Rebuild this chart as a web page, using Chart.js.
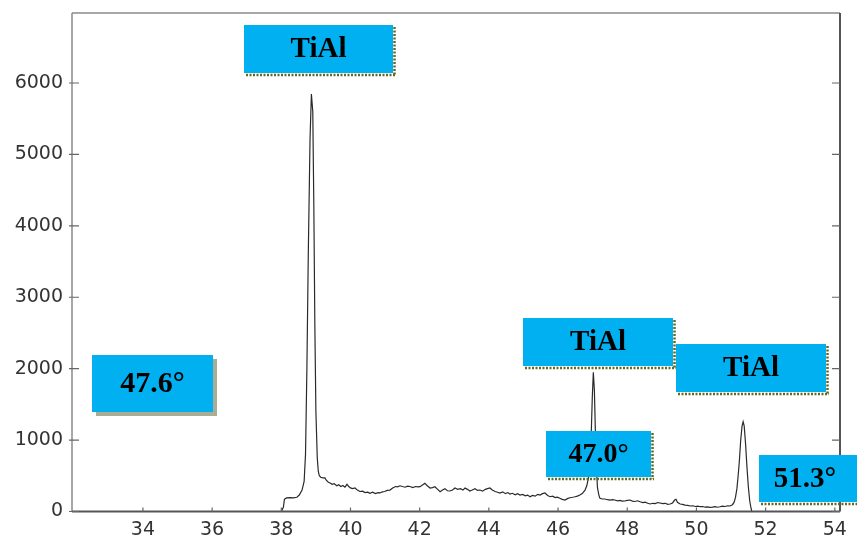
<!DOCTYPE html>
<html>
<head>
<meta charset="utf-8">
<script src="https://cdn.jsdelivr.net/npm/chart.js@4/dist/chart.umd.min.js"></script>
<style>
body{margin:0;background:#fff}
#wrap{width:857px;height:541px;position:relative}
</style>
</head>
<body>
<div id="wrap"><canvas id="xrd"></canvas></div>
<script>
let twoTheta=[38.00,38.06,38.09,38.15,38.25,38.35,38.45,38.52,38.60,38.66,38.70,38.74,38.78,38.83,38.87,38.91,38.94,38.97,39.00,39.04,39.07,39.10,39.14,39.20,39.26,39.30,39.36,39.41,39.47,39.53,39.60,39.66,39.72,39.78,39.84,39.90,39.95,40.00,40.06,40.13,40.20,40.27,40.35,40.42,40.50,40.56,40.64,40.72,40.80,40.85,40.92,40.99,41.06,41.14,41.22,41.30,41.36,41.43,41.50,41.58,41.65,41.72,41.80,41.88,41.95,42.01,42.08,42.15,42.22,42.30,42.37,42.44,42.52,42.59,42.66,42.73,42.80,42.87,42.95,43.02,43.10,43.18,43.25,43.31,43.38,43.45,43.52,43.60,43.67,43.74,43.82,43.90,43.96,44.03,44.10,44.18,44.25,44.32,44.40,44.48,44.55,44.61,44.68,44.76,44.83,44.90,44.98,45.05,45.12,45.19,45.26,45.34,45.41,45.48,45.55,45.62,45.70,45.77,45.84,45.92,45.98,46.05,46.12,46.20,46.27,46.34,46.42,46.49,46.56,46.63,46.70,46.78,46.83,46.88,46.92,46.96,46.99,47.02,47.05,47.08,47.11,47.14,47.18,47.21,47.28,47.35,47.43,47.50,47.57,47.64,47.72,47.79,47.86,47.93,48.00,48.08,48.15,48.22,48.30,48.37,48.45,48.52,48.59,48.66,48.74,48.81,48.88,48.95,49.02,49.10,49.17,49.24,49.31,49.37,49.41,49.45,49.53,49.60,49.67,49.75,49.82,49.90,49.97,50.04,50.11,50.18,50.25,50.32,50.39,50.46,50.54,50.61,50.68,50.75,50.83,50.90,50.97,51.04,51.09,51.13,51.17,51.20,51.24,51.28,51.32,51.35,51.38,51.42,51.46,51.50,51.54,51.57,51.60]

let intensity=[0,60,170,190,195,190,200,230,300,420,800,2000,3600,5200,5845,5600,4300,2600,1400,750,560,500,480,470,470,440,410,400,380,390,360,375,350,365,340,380,350,330,320,330,300,280,285,265,270,255,270,250,265,260,275,280,295,300,330,350,345,360,350,340,355,350,335,350,345,347,370,395,360,329,335,347,310,277,300,320,290,287,300,329,310,320,300,329,310,287,300,320,295,301,285,310,320,329,300,280,270,259,275,250,265,245,255,235,250,231,240,220,230,207,225,215,240,231,250,259,225,207,215,195,200,185,170,161,180,193,200,207,215,231,250,300,360,470,650,1100,1600,1950,1700,1100,600,330,230,185,175,175,165,160,165,161,150,155,145,147,155,161,145,140,150,137,125,130,115,105,115,110,125,119,110,115,100,105,120,160,171,130,105,100,90,85,77,80,70,75,67,70,60,65,59,62,67,60,67,75,70,80,77,95,130,200,320,470,700,1000,1200,1257,1200,950,627,350,150,67,0]

let xTicks=[34,36,38,40,42,44,46,48,50,52,54]
let yTicks=[0,1000,2000,3000,4000,5000,6000]

let boxes=[
{text:"TiAl",x:244,y:25,w:149,h:48,size:29,dotted:true},
{text:"TiAl",x:523,y:318,w:150,h:48,size:29,dotted:true},
{text:"TiAl",x:676,y:344,w:150,h:48,size:29,dotted:true},
{text:"47.0°",x:546,y:431,w:105,h:46,size:28,dotted:true},
{text:"51.3°",x:759,y:455,w:100,h:47,size:29,dotted:true,dx:-4},
{text:"47.6°",x:92,y:355,w:121,h:57,size:30,shadow:true}
]

let frame={
id:"frame",
beforeDraw(chart){
let c=chart.ctx
c.save()
c.fillStyle="#fff"
c.fillRect(0,0,chart.width,chart.height)
c.restore()
},
afterDatasetsDraw(chart){
let c=chart.ctx
let a=chart.chartArea
let xs=chart.scales.x
let ys=chart.scales.y
c.save()
c.lineWidth=1.5
c.strokeStyle="#8a8a8a"
c.beginPath()
c.moveTo(a.left,a.top);c.lineTo(a.right,a.top)
c.moveTo(a.left,a.top);c.lineTo(a.left,a.bottom)
c.stroke()
c.lineWidth=2
c.strokeStyle="#555"
c.beginPath()
c.moveTo(a.right,a.top);c.lineTo(a.right,a.bottom)
c.moveTo(a.left,a.bottom);c.lineTo(a.right,a.bottom)
c.stroke()
c.lineWidth=1.2
c.strokeStyle="#666"
c.beginPath()
xTicks.forEach(v=>{
let px=xs.getPixelForValue(v)
c.moveTo(px,a.bottom);c.lineTo(px,a.bottom-4)
})
yTicks.forEach(v=>{
let py=ys.getPixelForValue(v)
c.moveTo(a.left-3,py);c.lineTo(a.left+7,py)
c.moveTo(a.right,py);c.lineTo(a.right-8,py)
})
c.stroke()

boxes.forEach(b=>{
if(b.shadow){
c.fillStyle="#a9ad95"
c.fillRect(b.x+4,b.y+4,b.w,b.h)
}
c.fillStyle="#00b0f0"
c.fillRect(b.x,b.y,b.w,b.h)
if(b.dotted){
c.setLineDash([2,1.5])
c.lineWidth=2.5
c.strokeStyle="#5e6b22"
c.beginPath()
c.moveTo(b.x+b.w+1.5,b.y+2);c.lineTo(b.x+b.w+1.5,b.y+b.h+2)
c.moveTo(b.x+2,b.y+b.h+2);c.lineTo(b.x+b.w+3,b.y+b.h+2)
c.stroke()
c.setLineDash([])
}
c.fillStyle="#000"
c.font="bold "+b.size+"px 'Liberation Serif', 'Times New Roman', serif"
c.textAlign="center"
c.textBaseline="middle"
c.fillText(b.text,b.x+b.w/2+(b.dx||0),b.y+b.h/2+1)
})
c.restore()
}
}

let points=twoTheta.map((t,i)=>({x:t,y:intensity[i]}))

new Chart(document.getElementById("xrd"),{
type:"line",
data:{
datasets:[{
data:points,
borderColor:"#2a2a2a",
borderWidth:1.2,
pointRadius:0,
tension:0,
fill:false
}]
},
options:{
responsive:true,
maintainAspectRatio:false,
animation:false,
layout:{padding:{top:13,right:17,left:0,bottom:0}},
plugins:{legend:{display:false},tooltip:{enabled:false}},
scales:{
x:{
type:"linear",
min:31.95,
max:54.15,
afterBuildTicks:s=>{s.ticks=xTicks.map(v=>({value:v}))},
afterFit:s=>{s.height=29.5;s.paddingLeft=0;s.paddingRight=0},
grid:{display:false,drawTicks:false},
border:{display:false},
ticks:{color:"#333",padding:7,font:{family:"'DejaVu Sans'",size:19},maxRotation:0,autoSkip:false,callback:v=>String(v)}
},
y:{
min:0,
max:6980,
afterBuildTicks:s=>{s.ticks=yTicks.map(v=>({value:v}))},
afterFit:s=>{s.width=72;s.paddingTop=0;s.paddingBottom=0},
grid:{display:false,drawTicks:false},
border:{display:false},
ticks:{color:"#333",padding:9,font:{family:"'DejaVu Sans'",size:19},autoSkip:false,callback:v=>String(v)}
}
}
},
plugins:[frame]
})
</script>
</body>
</html>
